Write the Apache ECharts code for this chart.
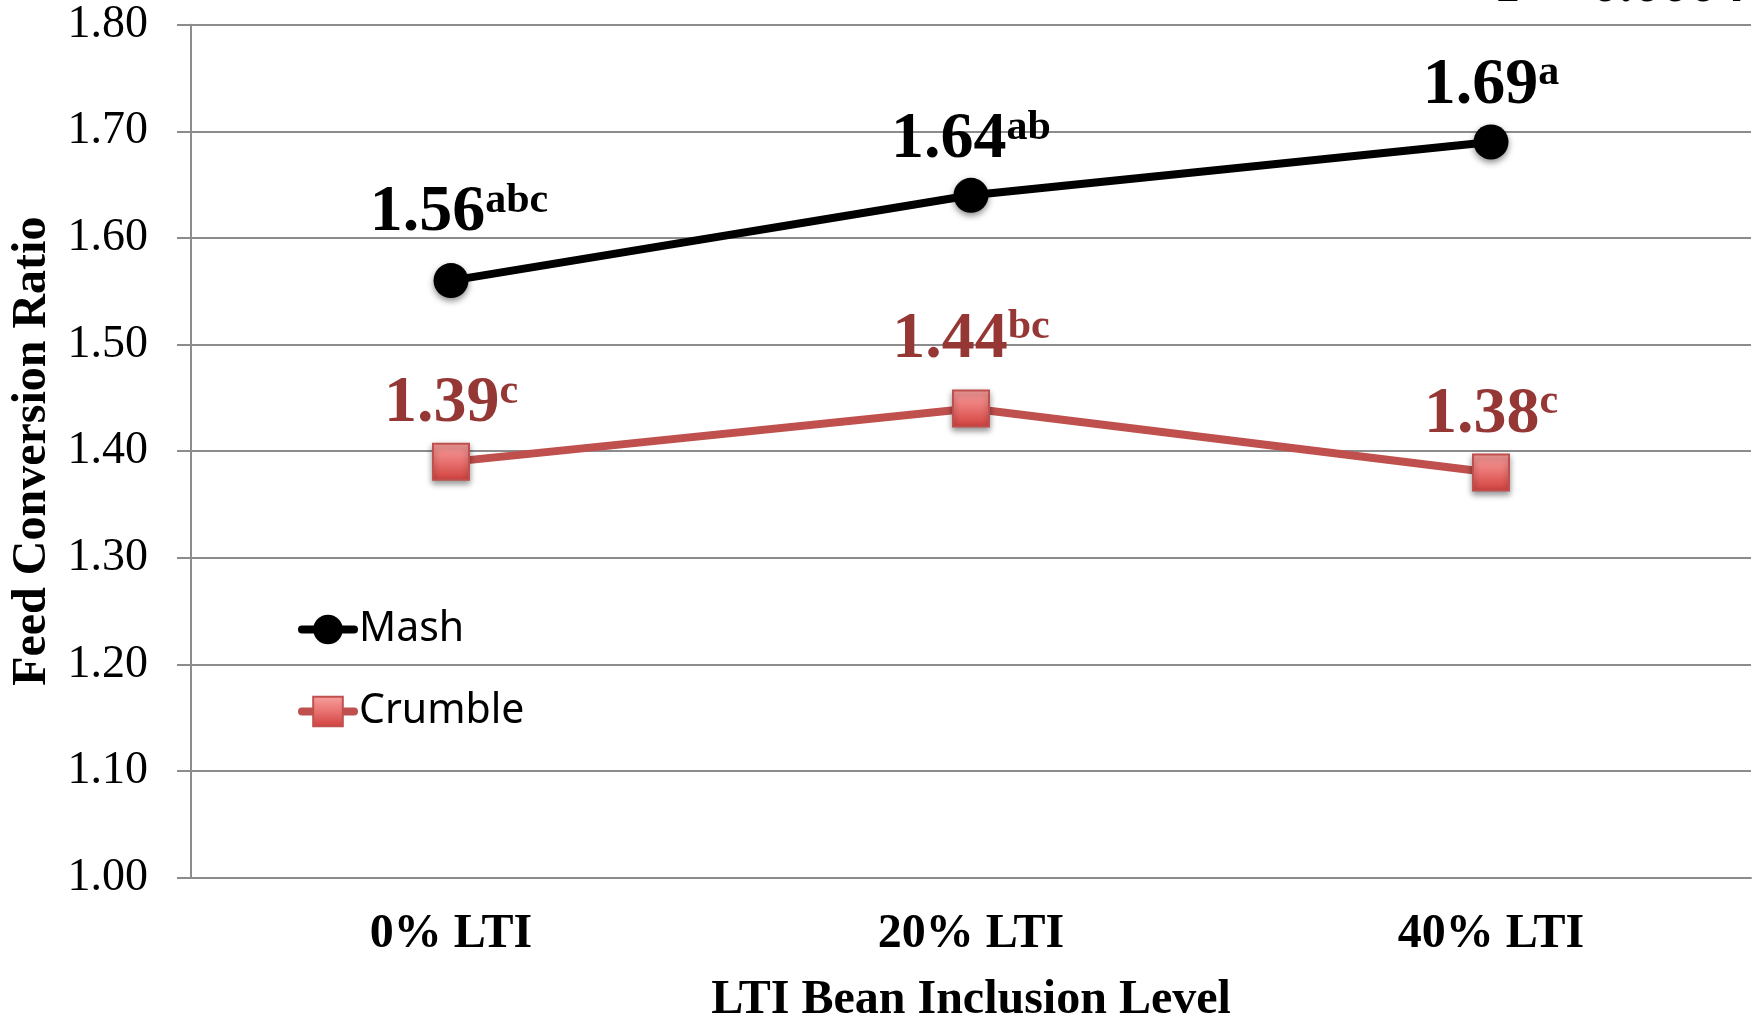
<!DOCTYPE html>
<html>
<head>
<meta charset="utf-8">
<title>Feed Conversion Ratio</title>
<script src="https://cdn.jsdelivr.net/npm/echarts@6/dist/echarts.min.js"></script>
<style>
  html, body { margin: 0; padding: 0; background: #ffffff; }
  #chart { width: 1760px; height: 1019px; }
</style>
</head>
<body>
<div id="chart"></div>
<script>
// Feed conversion ratio by LTI bean inclusion level, mash vs crumble diets
const categories = ['0% LTI', '20% LTI', '40% LTI'];
const mashValues = [1.56, 1.64, 1.69];
const mashLetters = ['abc', 'ab', 'a'];
const crumbleValues = [1.39, 1.44, 1.38];
const crumbleLetters = ['c', 'bc', 'c'];
const yMin = 1.0;
const yMax = 1.8;
const yStep = 0.1;
const pValueText = 'P = 0.0004';

const SERIF = '"Liberation Serif", "Times New Roman", serif';
const SANS = '"Noto Sans", "Open Sans", sans-serif';
const GRID_GRAY = '#8c8c8c';

// label placement tweaks: [gap above the marker, horizontal nudge]
const mashLabelPlace = [[17, 8], [5, 0], [6, 0]];
const crumbleLabelPlace = [[6, 0], [17, 0], [6, 0]];

function valueLabel(color) {
  return {
    show: true,
    position: 'top',
    formatter: p => '{v|' + p.value.toFixed(2) + '}{s|' + p.data.letters + '}',
    rich: {
      v: { fontFamily: SERIF, fontWeight: 'bold', fontSize: 66, lineHeight: 66, color: color },
      s: { fontFamily: SERIF, fontWeight: 'bold', fontSize: 42, lineHeight: 42, color: color, verticalAlign: 'top' }
    }
  };
}

function buildData(values, letters, place) {
  return values.map((v, i) => ({
    value: v,
    letters: letters[i],
    label: { distance: place[i][0], offset: [place[i][1], 0] }
  }));
}

const chart = echarts.init(document.getElementById('chart'), null, { renderer: 'canvas' });

chart.setOption({
  animation: false,
  backgroundColor: '#ffffff',
  grid: { left: 191, right: 9, top: 24.7, height: 853, containLabel: false, outerBoundsMode: 'none' },
  legend: {
    orient: 'vertical',
    left: 298,
    top: 609,
    padding: 0,
    itemWidth: 52,
    itemHeight: 37,
    itemGap: 41,
    lineStyle: { width: 8, cap: 'round' },
    textStyle: { fontFamily: SANS, fontSize: 41, lineHeight: 37, color: '#000000' },
    data: ['Mash', 'Crumble']
  },
  xAxis: {
    type: 'category',
    data: categories,
    boundaryGap: true,
    name: 'LTI Bean Inclusion Level',
    nameLocation: 'middle',
    nameGap: 101,
    nameTextStyle: { fontFamily: SERIF, fontWeight: 'bold', fontSize: 48, lineHeight: 44, color: '#000000' },
    axisLine: { lineStyle: { color: GRID_GRAY, width: 2 } },
    axisTick: { show: false },
    axisLabel: { fontFamily: SERIF, fontWeight: 'bold', fontSize: 48, lineHeight: 48, color: '#000000', margin: 33 }
  },
  yAxis: {
    type: 'value',
    min: yMin,
    max: yMax,
    interval: yStep,
    name: 'Feed Conversion Ratio',
    nameLocation: 'middle',
    nameGap: 130,
    nameTextStyle: { fontFamily: SERIF, fontWeight: 'bold', fontSize: 48, lineHeight: 48, color: '#000000' },
    axisLine: { show: true, lineStyle: { color: GRID_GRAY, width: 2 } },
    axisTick: { show: true, length: 14, lineStyle: { color: GRID_GRAY, width: 2 } },
    splitLine: { show: true, lineStyle: { color: GRID_GRAY, width: 2 } },
    axisLabel: {
      fontFamily: SERIF, fontSize: 46, color: '#000000', margin: 43,
      formatter: v => v.toFixed(2)
    }
  },
  series: [
    {
      name: 'Mash',
      type: 'line',
      data: buildData(mashValues, mashLetters, mashLabelPlace),
      symbol: 'circle',
      symbolSize: 35,
      lineStyle: { color: '#000000', width: 8, cap: 'round' },
      itemStyle: {
        color: '#000000',
        shadowColor: 'rgba(0,0,0,0.45)',
        shadowBlur: 6,
        shadowOffsetY: 3
      },
      label: valueLabel('#000000'),
      z: 3
    },
    {
      name: 'Crumble',
      type: 'line',
      data: buildData(crumbleValues, crumbleLetters, crumbleLabelPlace),
      symbol: 'rect',
      symbolSize: 36,
      lineStyle: { color: '#c0504d', width: 8, cap: 'round' },
      itemStyle: {
        color: new echarts.graphic.LinearGradient(0, 0, 0, 1, [
          { offset: 0, color: '#f8a19f' },
          { offset: 0.5, color: '#e87270' },
          { offset: 1, color: '#d0403d' }
        ]),
        borderColor: '#c0504d',
        borderWidth: 2,
        shadowColor: 'rgba(0,0,0,0.4)',
        shadowBlur: 6,
        shadowOffsetY: 3
      },
      label: valueLabel('#953735'),
      z: 2
    }
  ],
  graphic: [
    {
      type: 'text',
      x: 1745,
      y: 15,
      style: {
        text: pValueText,
        font: 'bold 56px ' + SERIF,
        fill: '#000000',
        align: 'right',
        verticalAlign: 'bottom'
      }
    }
  ]
});
</script>
</body>
</html>
